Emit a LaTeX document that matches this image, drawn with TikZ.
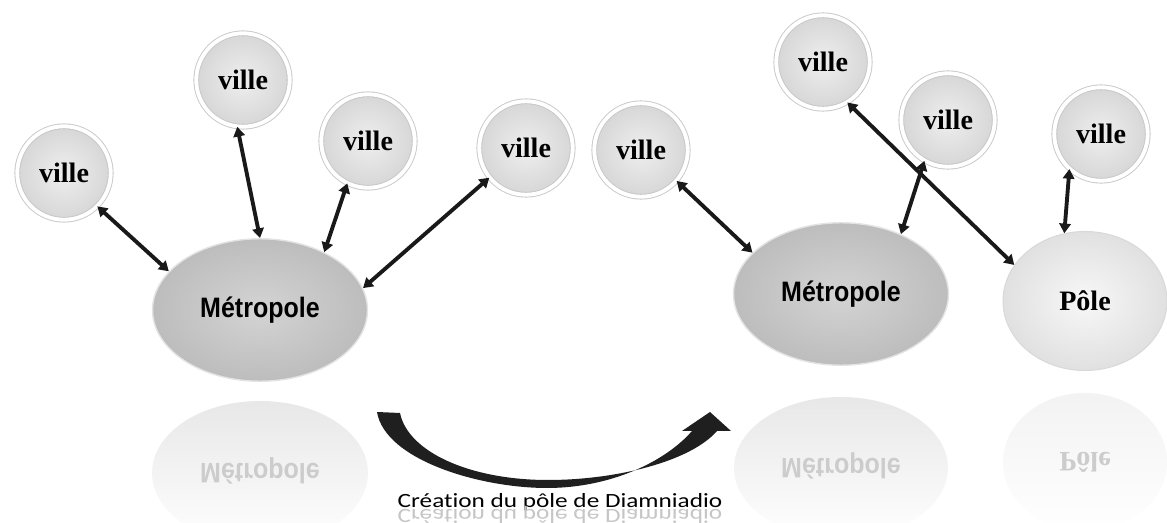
\documentclass[tikz,border=0pt]{standalone}
\usepackage{fontspec}
\setmainfont{Liberation Serif}
\newfontfamily\narrowsans[FakeStretch=0.89]{Liberation Sans}
\newfontfamily\legende[FakeStretch=1.25, Ligatures=NoCommon]{Carlito}
\usetikzlibrary{shapes.geometric,arrows.meta,fadings}

\tikzset{
  ville/.style={circle, minimum size=1.87cm, inner sep=0pt, draw=gray!45, double=white,
    double distance=2.2pt, line width=0.5pt, inner color=gray!13, outer color=gray!32,
    font=\bfseries\fontsize{16}{19}\selectfont},
  metro/.style={ellipse, minimum width=4.3cm, minimum height=2.85cm, inner sep=0pt,
    draw=gray!22, line width=0.8pt, inner color=gray!34, outer color=gray!52,
    font=\narrowsans\bfseries\fontsize{16}{19}\selectfont},
  pole/.style={ellipse, minimum width=3.28cm, minimum height=2.78cm, inner sep=0pt,
    draw=gray!30, line width=0.6pt, inner color=gray!6, outer color=gray!24,
    font=\bfseries\fontsize{16}{19}\selectfont},
  lien/.style={{Triangle[length=5.5pt,width=6.5pt]}-{Triangle[length=5.5pt,width=6.5pt]}, line width=2.2pt, black!90},
  reflet/.style={path fading=south, fill opacity=0.45},
}

\begin{document}
\begin{tikzpicture}[x=0.02cm, y=-0.02cm]
    \clip (0,0) rectangle (1167,523);
    \fill[white] (0,0) rectangle (1167,523);

    % reflets
    \fill[reflet, gray!40] (260,473) ellipse [x radius=2.16cm, y radius=1.44cm];
    \fill[reflet, gray!40] (841,468) ellipse [x radius=2.14cm, y radius=1.42cm];
    \fill[reflet, gray!20] (1085,462) ellipse [x radius=1.64cm, y radius=1.38cm];
    \node[text=gray!40, font=\narrowsans\bfseries\fontsize{16}{19}\selectfont] (rmetL) at (260,471) {\scalebox{1}[-1]{Métropole}};
    \node[text=gray!40, font=\narrowsans\bfseries\fontsize{16}{19}\selectfont] (rmetR) at (841,466) {\scalebox{1}[-1]{Métropole}};
    \node[text=gray!40, font=\bfseries\fontsize{16}{19}\selectfont] (rpole) at (1085,462) {\scalebox{1}[-1]{Pôle}};

    \node[metro] (metL) at (260,310) {Métropole};
    \node[ville] (v1) at (64,173) {ville};
    \node[ville] (v2) at (243,80) {ville};
    \node[ville] (v3) at (368,141) {ville};
    \node[ville] (v4) at (526,148) {ville};

    \node[metro] (metR) at (841,294) {Métropole};
    \node[pole] (pole) at (1085,301) {Pôle};
    \node[ville] (v5) at (641,150) {ville};
    \node[ville] (v6) at (823,62) {ville};
    \node[ville] (v7) at (948,120) {ville};
    \node[ville] (v8) at (1101,134) {ville};

    \draw[lien] (v1.-45) -- (metL.157);
    \draw[lien] (v2.263) -- (metL.90);
    \draw[lien] (v3.244) -- (metL.42);
    \draw[lien] (v4.219) -- (metL.12);
    \draw[lien] (v5.-41) -- (metR.155);
    \draw[lien] (v7.240) -- (metR.45);
    \draw[lien] (v8.228) -- (pole.107);
    \draw[lien] (v6.-59) -- (pole.153);

    % fleche courbe
    \fill[black!88] (377,412) .. controls (385,460) and (480,488) .. (547,488)
        .. controls (610,488) and (665,462) .. (692,431) -- (682,431) -- (710,412)
        -- (731,431) -- (717,431) .. controls (690,462) and (615,480) .. (548,480)
        .. controls (470,480) and (408,452) .. (400,413) -- cycle;

    \node[anchor=base, font=\legende\fontsize{11.5}{13}\selectfont] (titre) at (560,508) {Création du pôle de Diamniadio};
    \node[anchor=base, text=gray!45, font=\legende\fontsize{11.5}{13}\selectfont] (rtitre) at (560,510) {\scalebox{1}[-1]{Création du pôle de Diamniadio}};
\end{tikzpicture}
\end{document}
